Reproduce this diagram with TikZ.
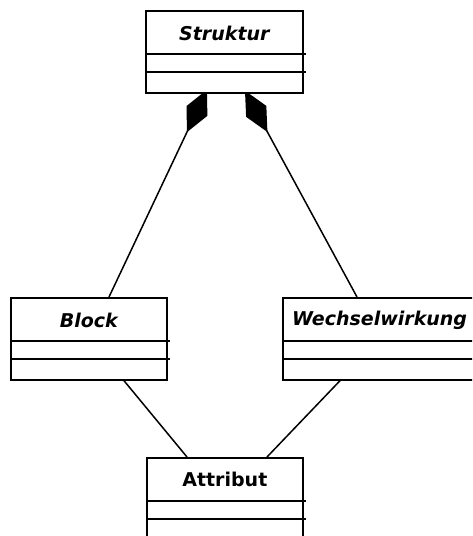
\documentclass[tikz,border=0pt]{standalone}
\usepackage{fontspec}
\setmainfont{DejaVu Sans}
\usetikzlibrary{arrows.meta,calc,backgrounds}

\tikzset{
  classbox/.style={draw, line width=1.7pt, fill=white, inner sep=0pt,
    minimum height=82pt, anchor=north west},
  classname/.style={font=\fontsize{19}{21}\selectfont\bfseries\itshape, inner sep=0pt},
  plainname/.style={font=\fontsize{19}{21}\selectfont\bfseries, inner sep=0pt},
  divider/.style={line width=1.7pt},
  composition/.style={line width=1.5pt,
    -{Diamond[length=47pt,width=23pt,fill=black]}},
  assoc/.style={line width=1.5pt},
}

% draw the two compartment lines under a class header
\newcommand{\compartments}[1]{%
  \draw[divider] ($(#1.north west)+(0,44)$) -- ($(#1.north east)+(2,44)$);
  \draw[divider] ($(#1.north west)+(0,62)$) -- ($(#1.north east)+(2,62)$);
}

\begin{document}
\begin{tikzpicture}[x=1pt,y=-1pt]
  \useasboundingbox (0,0) rectangle (472,536);
  \clip (0,0) rectangle (472,536);

  % class boxes (white fill hides the diamond apexes)
  \node[classbox, minimum width=157pt] (struktur) at (145,10) {};
  \node[classbox, minimum width=156pt] (block) at (10,297) {};
  \node[classbox, minimum width=210pt] (wechsel) at (282,297) {};
  \node[classbox, minimum width=156pt] (attribut) at (146,457) {};

  \compartments{struktur}
  \compartments{block}
  \compartments{wechsel}
  \compartments{attribut}

  % class names
  \node[classname] (tStruktur) at ($(struktur.north)+(0,23)$) {Struktur};
  \node[classname] (tBlock) at ($(block.north)+(0,23)$) {Block};
  \node[classname, anchor=west] (tWechsel) at ($(wechsel.north west)+(10,23)$) {Wechselwirkung};
  \node[plainname] (tAttribut) at ($(attribut.north)+(0,22)$) {Attribut};

  \begin{scope}[on background layer]
    \fill[white] (0,0) rectangle (472,536);
    % compositions into Struktur
    \draw[composition] ($(block.north west)+(99,0)$) -- ($(struktur.south west)+(62,-4)$);
    \draw[composition] ($(wechsel.north west)+(75,0)$) -- ($(struktur.south west)+(100,-3)$);
    % associations to Attribut
    \draw[assoc] ($(block.south west)+(114,0)$) -- ($(attribut.north west)+(41,0)$);
    \draw[assoc] ($(wechsel.south west)+(58,0)$) -- ($(attribut.north west)+(121,0)$);
  \end{scope}
\end{tikzpicture}
\end{document}
